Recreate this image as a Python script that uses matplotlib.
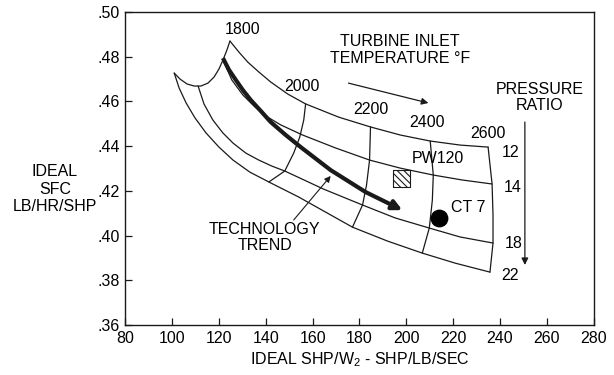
import matplotlib
matplotlib.use("Agg")
from matplotlib import pyplot as plt
from matplotlib.ticker import FuncFormatter
import numpy as np

# ideal SHP/W2 (x) and ideal SFC (y), one list per curve
# pressure ratio lines (from the 1800 F edge to the 2600 F edge)
pr12_x = [124.7, 128.5, 132.3, 137.0, 142.1, 149.4, 157.0, 171.1, 184.7, 197.4, 210.2, 223.0, 234.9]
pr12_y = [.4870, .4821, .4776, .4732, .4687, .4633, .4589, .4530, .4486, .4450, .4423, .4405, .4396]
pr14_x = [121.7, 125.5, 130.2, 134.9, 140.0, 146.4, 155.7, 169.8, 184.3, 197.4, 211.5, 223.8, 236.6]
pr14_y = [.4785, .4696, .4629, .4580, .4535, .4495, .4450, .4392, .4338, .4302, .4271, .4249, .4231]
pr18_x = [111.1, 113.6, 117.4, 121.7, 126.0, 131.5, 137.0, 142.6, 148.1, 164.7, 181.3, 195.3, 209.8, 223.0, 237.0]
pr18_y = [.4669, .4589, .4517, .4459, .4414, .4369, .4338, .4311, .4289, .4208, .4137, .4079, .4034, .3994, .3967]
pr22_x = [100.9, 103.0, 106.0, 109.8, 114.5, 120.0, 126.0, 133.2, 141.3, 154.0, 177.0, 191.9, 206.8, 220.9, 235.7]
pr22_y = [.4727, .4660, .4593, .4526, .4459, .4396, .4338, .4284, .4240, .4173, .4038, .3976, .3922, .3877, .3837]

# turbine inlet temperature lines
t1800_x = [100.9, 103.4, 106.4, 109.4, 112.3, 115.3, 117.9, 120.0, 121.7, 123.4, 124.7]
t1800_y = [.4727, .4700, .4678, .4669, .4669, .4682, .4709, .4745, .4785, .4830, .4870]
t2000_x = [157.0, 156.2, 154.5, 151.9, 148.1, 141.3]
t2000_y = [.4589, .4517, .4441, .4369, .4289, .4240]
t2200_x = [184.7, 184.3, 183.0, 181.3, 177.0]
t2200_y = [.4486, .4338, .4226, .4137, .4038]
t2400_x = [210.2, 211.5, 211.1, 209.8, 206.8]
t2400_y = [.4423, .4271, .4159, .4034, .3922]
t2600_x = [234.9, 236.6, 237.0, 237.0, 235.7]
t2600_y = [.4396, .4231, .4092, .3967, .3837]

# technology trend arrow
trend_x = [121.7, 124.3, 127.2, 130.2, 133.6, 137.9, 142.1, 148.5, 154.9, 167.7, 182.6, 198.3]
trend_y = [.4794, .4741, .4696, .4651, .4606, .4557, .4508, .4450, .4396, .4293, .4195, .4114]

# engines
pw120_shp, pw120_sfc = 198.1, .4255
ct7_shp, ct7_sfc = 214.0, .4079

temp_labels = ["1800", "2000", "2200", "2400", "2600"]
temp_lab_x = [130.2, 155.3, 184.7, 208.9, 234.9]
temp_lab_y = [.4920, .4665, .4562, .4508, .4459]
pr_labels = ["12", "14", "18", "22"]
pr_lab_x = [244.3, 245.5, 245.9, 244.1]
pr_lab_y = [.4374, .4217, .3967, .3824]

plt.rcParams['font.family'] = ['Liberation Sans', 'DejaVu Sans']
plt.rcParams['mathtext.default'] = 'regular'
plt.rcParams['hatch.linewidth'] = 0.8
ink = '#1a1a1a'
fs = 11.5

fig = plt.figure(figsize=(6.14, 3.75), dpi=100)
ax = fig.add_axes([0.204, 0.133, 0.763, 0.835])

grid = [(pr12_x, pr12_y), (pr14_x, pr14_y), (pr18_x, pr18_y), (pr22_x, pr22_y),
        (t1800_x, t1800_y), (t2000_x, t2000_y), (t2200_x, t2200_y),
        (t2400_x, t2400_y), (t2600_x, t2600_y)]
for gx, gy in grid:
    ax.plot(gx, gy, color=ink, lw=0.9, solid_joinstyle='round', solid_capstyle='round')

# thick trend line with arrow head
ax.plot(trend_x[:-1], trend_y[:-1], color=ink, lw=3.0, solid_capstyle='butt',
        solid_joinstyle='round')
ax.annotate('', xy=(trend_x[-1], trend_y[-1]), xytext=(trend_x[-2], trend_y[-2]),
            arrowprops=dict(arrowstyle='-|>', color=ink, lw=3.0, mutation_scale=14,
                            shrinkA=0, shrinkB=0))

# engine markers
ax.scatter([pw120_shp], [pw120_sfc], marker='s', s=150, facecolor='white',
           edgecolor=ink, linewidth=0.8, hatch='\\\\\\\\\\', zorder=5)
ax.scatter([ct7_shp], [ct7_sfc], marker='o', s=140, color='black', zorder=5)
ax.text(213.6, .4343, "PW120", fontsize=fs, ha='center', va='center')
ax.text(226.4, .4128, "CT 7", fontsize=fs, ha='center', va='center')

for lab, lx, ly in zip(temp_labels, temp_lab_x, temp_lab_y):
    ax.text(lx, ly, lab, fontsize=fs, ha='center', va='center')
for lab, lx, ly in zip(pr_labels, pr_lab_x, pr_lab_y):
    ax.text(lx, ly, lab, fontsize=fs, ha='center', va='center')

ax.text(197.4, .4830, "TURBINE INLET\nTEMPERATURE °F", fontsize=fs, ha='center',
        va='center', linespacing=1.1)
ax.annotate('', xy=(209.4, .4593), xytext=(175.3, .4682),
            arrowprops=dict(arrowstyle='-|>', color=ink, lw=0.9, mutation_scale=10,
                            shrinkA=0, shrinkB=0))
ax.text(257.0, .4616, "PRESSURE\nRATIO", fontsize=fs, ha='center', va='center',
        linespacing=1.1)
ax.annotate('', xy=(250.6, .3869), xytext=(250.6, .4508),
            arrowprops=dict(arrowstyle='-|>', color=ink, lw=0.9, mutation_scale=10,
                            shrinkA=0, shrinkB=0))
ax.text(139.6, .3992, "TECHNOLOGY\nTREND", fontsize=fs, ha='center', va='center',
        linespacing=1.1)
ax.annotate('', xy=(167.7, .4267), xytext=(151.9, .4070),
            arrowprops=dict(arrowstyle='-|>', color=ink, lw=0.8, mutation_scale=9,
                            shrinkA=0, shrinkB=0))

ax.set_xlim(80, 280)
ax.set_ylim(.36, .50)
ax.set_xticks(np.arange(80, 281, 20))
ax.set_yticks(np.arange(.36, .501, .02))
ax.yaxis.set_major_formatter(FuncFormatter(lambda v, p: f"{v:.2f}"[1:]))
ax.tick_params(direction='in', length=5, width=0.9, color=ink, labelsize=fs, pad=4)
for s in ax.spines.values():
    s.set_color(ink)
    s.set_linewidth(1.0)

ax.set_xlabel(r"IDEAL SHP/W$_2$ - SHP/LB/SEC", fontsize=fs, labelpad=3)
fig.text(55 / 614, 1 - 189 / 375, "IDEAL\nSFC\nLB/HR/SHP", fontsize=fs,
         ha='center', va='center', multialignment='center', linespacing=1.2)

fig.savefig("out.png", dpi=100)
